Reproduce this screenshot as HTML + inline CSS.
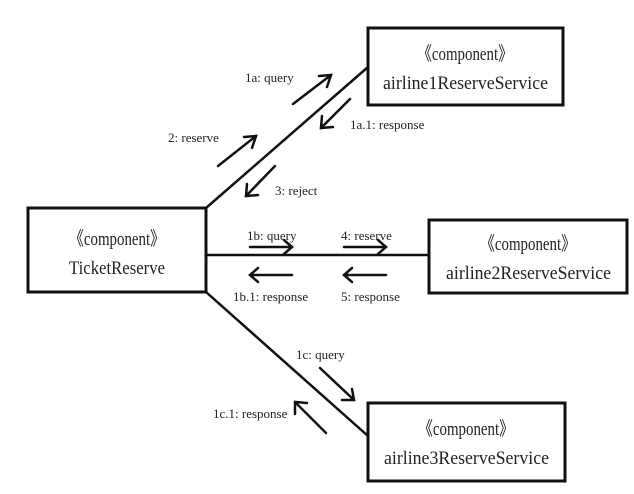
<!DOCTYPE html>
<html><head><meta charset="utf-8"><style>
body{margin:0;background:#fff;}
svg text{font-family:"Liberation Serif",serif;fill:#222;}
.b{font-size:19px;}
.l{font-size:13px;}
</style></head><body>
<svg width="634" height="489" viewBox="0 0 634 489" xmlns="http://www.w3.org/2000/svg">
<g fill="#fff" stroke="#111" stroke-width="3">
<rect x="28" y="208" width="178" height="84"/>
<rect x="368" y="28" width="195" height="77"/>
<rect x="429" y="220" width="198" height="73"/>
<rect x="368" y="403" width="197" height="78"/>
</g>
<g stroke="#111" stroke-width="2.5" fill="none">
<line x1="206" y1="208" x2="368" y2="67"/>
<line x1="206" y1="255" x2="429" y2="255"/>
<line x1="206" y1="292" x2="368" y2="436"/>
</g>
<g stroke="#111" stroke-width="2.5" fill="none" stroke-linecap="round">
<line x1="293" y1="104" x2="331" y2="75"/><polyline points="319,76 331,75 327,87"/>
<line x1="350" y1="99" x2="321" y2="128"/><polyline points="322,116 321,128 333,127"/>
<line x1="218" y1="166" x2="256" y2="136"/><polyline points="244,137 256,136 252,148"/>
<line x1="275" y1="166" x2="246" y2="196"/><polyline points="247,184 246,196 258,195"/>
<line x1="250" y1="247" x2="292" y2="247"/><polyline points="284,240 292,247 284,254"/>
<line x1="344" y1="247" x2="386" y2="247"/><polyline points="378,240 386,247 378,254"/>
<line x1="250" y1="275" x2="292" y2="275"/><polyline points="258,268 250,275 258,282"/>
<line x1="344" y1="275" x2="386" y2="275"/><polyline points="352,268 344,275 352,282"/>
<line x1="320" y1="368" x2="354" y2="400"/><polyline points="342,400 354,400 352,389"/>
<line x1="326" y1="433" x2="295" y2="402"/><polyline points="295,414 295,402 307,403"/>
</g>
<g class="b">
<text x="69" y="245" textLength="96" lengthAdjust="spacingAndGlyphs">《component》</text>
<text x="69" y="274" textLength="96" lengthAdjust="spacingAndGlyphs">TicketReserve</text>
<text x="417" y="60" textLength="96" lengthAdjust="spacingAndGlyphs">《component》</text>
<text x="383" y="89" textLength="165" lengthAdjust="spacingAndGlyphs">airline1ReserveService</text>
<text x="480" y="250" textLength="96" lengthAdjust="spacingAndGlyphs">《component》</text>
<text x="446" y="279" textLength="165" lengthAdjust="spacingAndGlyphs">airline2ReserveService</text>
<text x="418" y="435" textLength="96" lengthAdjust="spacingAndGlyphs">《component》</text>
<text x="384" y="464" textLength="165" lengthAdjust="spacingAndGlyphs">airline3ReserveService</text>
</g>
<g class="l">
<text x="245" y="82">1a: query</text>
<text x="350" y="129">1a.1: response</text>
<text x="168" y="142">2: reserve</text>
<text x="275" y="195">3: reject</text>
<text x="247" y="240">1b: query</text>
<text x="341" y="240">4: reserve</text>
<text x="233" y="301">1b.1: response</text>
<text x="341" y="301">5: response</text>
<text x="296" y="359">1c: query</text>
<text x="213" y="418">1c.1: response</text>
</g>
</svg>
</body></html>
